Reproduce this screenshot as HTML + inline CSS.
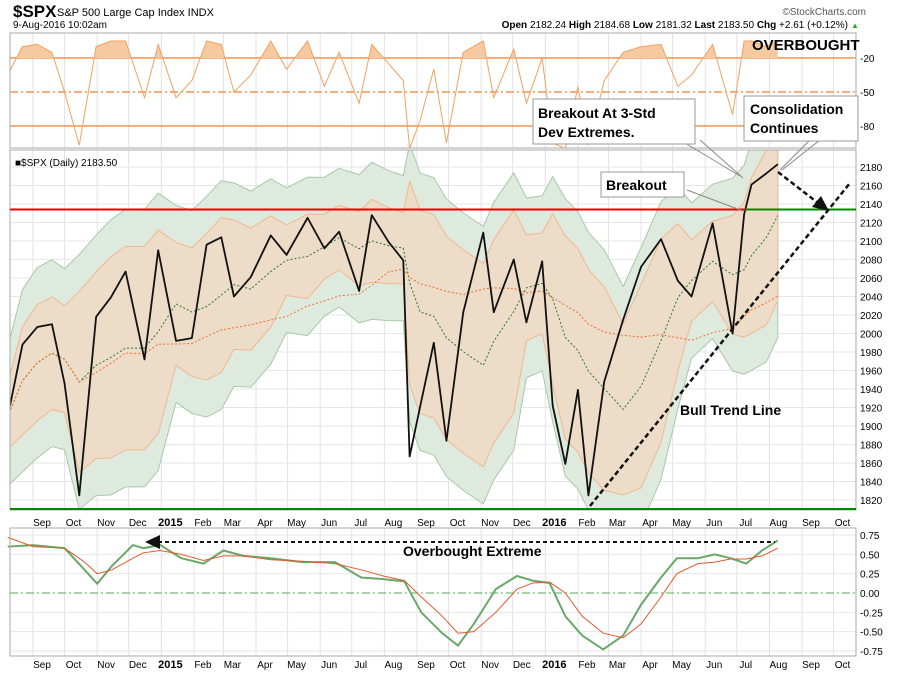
<!DOCTYPE html>
<html><head><meta charset="utf-8"><style>
body{margin:0;background:#fff;}
svg{display:block;font-family:"Liberation Sans",sans-serif;}
</style></head><body>
<svg id="c" width="900" height="673" viewBox="0 0 900 673">
<rect width="900" height="673" fill="#fff"/>
<defs>
<clipPath id="mainclip"><rect x="10" y="150" width="846" height="360"/></clipPath>
<clipPath id="topclip"><rect x="10" y="33" width="846" height="115"/></clipPath>
</defs>
<text x="13" y="17" font-size="17" font-weight="bold">$SPX</text>
<text x="57" y="16" font-size="11">S&amp;P 500 Large Cap Index  INDX</text>
<text x="13" y="28" font-size="10">9-Aug-2016 10:02am</text>
<text x="866" y="15" font-size="10" fill="#555" text-anchor="end">©StockCharts.com</text>
<text x="848" y="28" font-size="10" text-anchor="end"><tspan font-weight="bold">Open</tspan> 2182.24 <tspan font-weight="bold">High</tspan> 2184.68 <tspan font-weight="bold">Low</tspan> 2181.32 <tspan font-weight="bold">Last</tspan> 2183.50 <tspan font-weight="bold">Chg</tspan> +2.61 (+0.12%)</text>
<text x="851" y="28" font-size="8" fill="#2a2">▲</text>
<g id="gtop"></g><g id="gmain"></g><g id="gbot"></g><g id="ann"></g>
</svg>
<script>
const priceDates=["2014-08-08","2014-08-22","2014-09-05","2014-09-19","2014-10-01","2014-10-15","2014-10-31","2014-11-14","2014-11-28","2014-12-16","2014-12-29","2015-01-15","2015-01-30","2015-02-13","2015-02-27","2015-03-11","2015-03-27","2015-04-15","2015-04-30","2015-05-20","2015-06-05","2015-06-19","2015-07-08","2015-07-20","2015-08-05","2015-08-19","2015-08-25","2015-09-04","2015-09-17","2015-09-29","2015-10-15","2015-11-03","2015-11-13","2015-12-02","2015-12-14","2015-12-29","2016-01-08","2016-01-20","2016-02-01","2016-02-11","2016-02-26","2016-03-15","2016-04-01","2016-04-20","2016-05-06","2016-05-19","2016-06-08","2016-06-27","2016-07-08","2016-07-15","2016-07-29","2016-08-09"];
const priceValues=[1910,1988,2007,2010,1946,1825,2018,2039,2067,1972,2090,1992,1995,2096,2104,2040,2061,2106,2085,2125,2092,2110,2046,2128,2099,2079,1867,1921,1990,1884,2023,2109,2023,2080,2012,2078,1922,1859,1939,1825,1948,2015,2072,2102,2057,2040,2119,2000,2129,2161,2173,2183];
const willrValues=[-35,-10,-8,-15,-50,-97,-10,-5,-5,-55,-8,-55,-40,-5,-8,-50,-35,-5,-30,-5,-45,-15,-60,-8,-25,-40,-100,-75,-30,-95,-15,-5,-55,-12,-60,-20,-95,-100,-45,-97,-40,-15,-10,-8,-45,-35,-8,-70,-5,-5,-10,-5];
const oscDates=["2014-08-08","2014-09-01","2014-10-01","2014-10-20","2014-11-01","2014-11-15","2014-12-05","2014-12-15","2014-12-31","2015-01-20","2015-02-10","2015-03-01","2015-03-20","2015-04-15","2015-05-15","2015-06-15","2015-07-10","2015-07-31","2015-08-20","2015-09-05","2015-09-25","2015-10-10","2015-10-25","2015-11-15","2015-12-05","2015-12-20","2016-01-05","2016-01-20","2016-02-05","2016-02-25","2016-03-15","2016-04-01","2016-04-20","2016-05-05","2016-05-25","2016-06-10","2016-06-25","2016-07-10","2016-07-25","2016-08-09"];
const oscFast=[0.60,0.62,0.58,0.30,0.12,0.35,0.62,0.58,0.62,0.45,0.38,0.55,0.48,0.45,0.40,0.40,0.20,0.18,0.15,-0.25,-0.52,-0.68,-0.40,0.05,0.22,0.16,0.13,-0.30,-0.55,-0.73,-0.55,-0.15,0.20,0.45,0.45,0.50,0.45,0.38,0.55,0.68];
const oscSignal=[0.72,0.60,0.58,0.40,0.25,0.30,0.45,0.52,0.55,0.50,0.42,0.48,0.48,0.43,0.41,0.38,0.30,0.22,0.16,-0.05,-0.30,-0.52,-0.50,-0.25,0.05,0.13,0.14,0.00,-0.30,-0.52,-0.58,-0.40,-0.05,0.25,0.38,0.40,0.44,0.44,0.48,0.58];
const monthLabels=["Sep","Oct","Nov","Dec","2015","Feb","Mar","Apr","May","Jun","Jul","Aug","Sep","Oct","Nov","Dec","2016","Feb","Mar","Apr","May","Jun","Jul","Aug","Sep","Oct"];
const priceTicks=[1820,1840,1860,1880,1900,1920,1940,1960,1980,2000,2020,2040,2060,2080,2100,2120,2140,2160,2180];
const willrTicks=[-20,-50,-80];
const oscTicks=[0.75,0.5,0.25,0,-0.25,-0.5,-0.75];

const NS="http://www.w3.org/2000/svg";
const L=10,R=856;
const t0=Date.UTC(2014,8,1);
function x(d){return 33+(Date.parse(d)-t0)/864e5*1.052;}
function yP(v){return 500-(v-1820)*0.925;}
function yW(v){return 35.3-v*1.133;}
function yO(v){return 593-v*77.3;}
function mk(p,tag,a,txt){const e=document.createElementNS(NS,tag);for(const k in a)e.setAttribute(k,a[k]);if(txt!=null)e.textContent=txt;p.appendChild(e);return e;}
const svgRoot=document.getElementById('c');
const gTop=document.getElementById('gtop'),gMain=document.getElementById('gmain'),gBot=document.getElementById('gbot');

function grid(g,y1,y2){
  for(let i=0;i<monthLabels.length;i++){
    const d=new Date(Date.UTC(2014,8+i,1)).toISOString().slice(0,10);
    const gx=x(d);
    const ln=mk(g,'line',{x1:gx,x2:gx,y1:y1,y2:y2,stroke:'#e2e2e2'});
    
    
  }
}
function monthRow(y){
  for(let i=0;i<monthLabels.length;i++){
    const d=new Date(Date.UTC(2014,8+i,1)).toISOString().slice(0,10);
    const bold=/^\d/.test(monthLabels[i]);
    const t=mk(svgRoot,'text',{x:x(d)+9,y:y,'font-size':bold?11:10,'font-weight':bold?'bold':'normal','text-anchor':'middle'},monthLabels[i]);
    
    
  }
}

// ---- top panel
grid(gTop,33,148);
const topData=mk(gTop,'g',{'clip-path':'url(#topclip)'});
const wpts=priceDates.map((d,i)=>[x(d),yW(willrValues[i])]);
const cp=mk(gTop,'clipPath',{id:'ob'});mk(cp,'rect',{x:0,y:0,width:900,height:yW(-20)});
const wf=mk(topData,'polygon',{points:wpts.map(p=>p.join(',')).join(' ')+` ${wpts[wpts.length-1][0]},${yW(-20)} ${wpts[0][0]},${yW(-20)}`,fill:'#f7c9a0','clip-path':'url(#ob)'});


willrTicks.forEach(v=>{
  const l=mk(gTop,'line',{x1:L,x2:R,y1:yW(v),y2:yW(v),stroke:'#f08a40','stroke-width':1.3,'stroke-dasharray':v==-50?'8,3,2,3':'none'});
  
  
  const t=mk(gTop,'text',{x:860,y:yW(v)+4,'font-size':10},String(v));
  
  
});
const wl=mk(topData,'polyline',{points:wpts.map(p=>p.join(',')).join(' '),fill:'none',stroke:'#f4a060','stroke-width':1});


gTop.appendChild(topData);
mk(gTop,'rect',{x:L,y:33,width:R-L,height:115,fill:'none',stroke:'#aaa'});
const ob=mk(gTop,'text',{x:752,y:50,'font-size':15,'font-weight':'bold'},'OVERBOUGHT');



// ---- main panel
grid(gMain,150,510);
priceTicks.forEach(v=>{
  const l=mk(gMain,'line',{x1:L,x2:R,y1:yP(v),y2:yP(v),stroke:'#e6e6e6'});
  
  
});
function stat(i,days){const ti=Date.parse(priceDates[i]);const w=[];for(let j=0;j<=i;j++){if(ti-Date.parse(priceDates[j])<=days*864e5)w.push(priceValues[j]);}const m=w.reduce((a,b)=>a+b,0)/w.length;const s=Math.sqrt(w.reduce((a,b)=>a+(b-m)*(b-m),0)/w.length);return [m,s];}
const st=priceValues.map((v,i)=>stat(i,75));
const lt=priceValues.map((v,i)=>stat(i,280)[0]);
const mainData=mk(gMain,'g',{'clip-path':'url(#mainclip)'});
function band(extra,fill,stroke,name){
  const hw=st.map(s=>Math.max(35,Math.min(110,1.5*s[1]))+extra);
  const up=priceDates.map((d,i)=>[x(d),yP(st[i][0]+hw[i])]);
  const lo=priceDates.map((d,i)=>[x(d),yP(st[i][0]-hw[i])]).reverse();
  const p=mk(mainData,'polygon',{points:up.concat(lo).map(p=>p.join(',')).join(' '),fill:fill,stroke:stroke,'stroke-width':1,'stroke-linejoin':'round'});
  
  
}
band(40,'#dfeadf','#a8c8a8','outer-band');
band(0,'#ecdcc8','#f0b890','inner-band');
const ma50=mk(mainData,'polyline',{points:priceDates.map((d,i)=>x(d)+','+yP(st[i][0])).join(' '),fill:'none',stroke:'#2a7a2a','stroke-dasharray':'2,2'});


const ma200=mk(mainData,'polyline',{points:priceDates.map((d,i)=>x(d)+','+yP(lt[i])).join(' '),fill:'none',stroke:'#f07030','stroke-dasharray':'2,2'});


const pl=mk(mainData,'polyline',{points:priceDates.map((d,i)=>x(d)+','+yP(priceValues[i])).join(' '),fill:'none',stroke:'#111','stroke-width':1.8,'stroke-linejoin':'round'});


priceTicks.forEach(v=>{const t=mk(gMain,'text',{x:860,y:yP(v)+4,'font-size':10},String(v));});
mk(gMain,'rect',{x:L,y:150,width:R-L,height:360,fill:'none',stroke:'#aaa'});
const lg=mk(gMain,'text',{x:15,y:166,'font-size':10},'■$SPX (Daily) 2183.50');


const rl=mk(gMain,'line',{x1:L,x2:745,y1:yP(2134),y2:yP(2134),stroke:'#e00','stroke-width':2});


const gl=mk(gMain,'line',{x1:745,x2:R,y1:yP(2134),y2:yP(2134),stroke:'#080','stroke-width':2});


const bl=mk(gMain,'line',{x1:L,x2:R,y1:509,y2:509,stroke:'#080','stroke-width':2});


monthRow(526);

// ---- bottom panel
grid(gBot,528,656);
oscTicks.forEach(v=>{
  const l=mk(gBot,'line',{x1:L,x2:R,y1:yO(v),y2:yO(v),stroke:v==0?'#5a5':'#e6e6e6','stroke-dasharray':v==0?'8,3,2,3':'none'});
  
  
  const t=mk(gBot,'text',{x:860,y:yO(v)+4,'font-size':10},v.toFixed(2));
  
  
});
const of=mk(gBot,'polyline',{points:oscDates.map((d,i)=>x(d)+','+yO(oscFast[i])).join(' '),fill:'none',stroke:'#6aa86a','stroke-width':2});


const os=mk(gBot,'polyline',{points:oscDates.map((d,i)=>x(d)+','+yO(oscSignal[i])).join(' '),fill:'none',stroke:'#e05a30','stroke-width':1});


mk(gBot,'rect',{x:L,y:528,width:R-L,height:128,fill:'none',stroke:'#aaa'});
monthRow(668);
</script>
<script>
const A=document.getElementById('ann');
const NS2="http://www.w3.org/2000/svg";
function m2(tag,a,txt){const e=document.createElementNS(NS2,tag);for(const k in a)e.setAttribute(k,a[k]);if(txt!=null)e.textContent=txt;A.appendChild(e);return e;}
let e;
e=m2('path',{d:'M590,506 L850,183',stroke:'#111','stroke-width':2.5,'stroke-dasharray':'5,3',fill:'none'});
e=m2('path',{d:'M778,172 L818,203',stroke:'#111','stroke-width':2.5,'stroke-dasharray':'5,3',fill:'none'});
e=m2('polygon',{points:'829,211 812,207 821,196',fill:'#111'});
e=m2('text',{x:680,y:415,'font-size':14,'font-weight':'bold'},'Bull Trend Line');
e=m2('path',{d:'M687,190 L743,211 M680,140 L740,176 M700,140 L743,178 M810,140 L780,170 M820,140 L782,170',stroke:'#888','stroke-width':1,fill:'none'});
e=m2('rect',{x:601,y:172,width:83,height:25,fill:'#fff',stroke:'#999'});
e=m2('text',{x:606,y:190,'font-size':14,'font-weight':'bold'},'Breakout');
e=m2('rect',{x:533,y:99,width:162,height:45,fill:'#fff',stroke:'#999'});
e=m2('text',{x:538,y:118,'font-size':14,'font-weight':'bold'},'Breakout At 3-Std');
e=m2('text',{x:538,y:137,'font-size':14,'font-weight':'bold'},'Dev Extremes.');
e=m2('rect',{x:744,y:96,width:114,height:45,fill:'#fff',stroke:'#999'});
e=m2('text',{x:750,y:114,'font-size':14,'font-weight':'bold'},'Consolidation');
e=m2('text',{x:750,y:133,'font-size':14,'font-weight':'bold'},'Continues');
e=m2('path',{d:'M158,542 L775,542',stroke:'#111','stroke-width':2,'stroke-dasharray':'4,3',fill:'none'});
e=m2('polygon',{points:'145,542 160,535 160,549',fill:'#111'});
e=m2('text',{x:403,y:556,'font-size':14,'font-weight':'bold'},'Overbought Extreme');
</script>
</body></html>
